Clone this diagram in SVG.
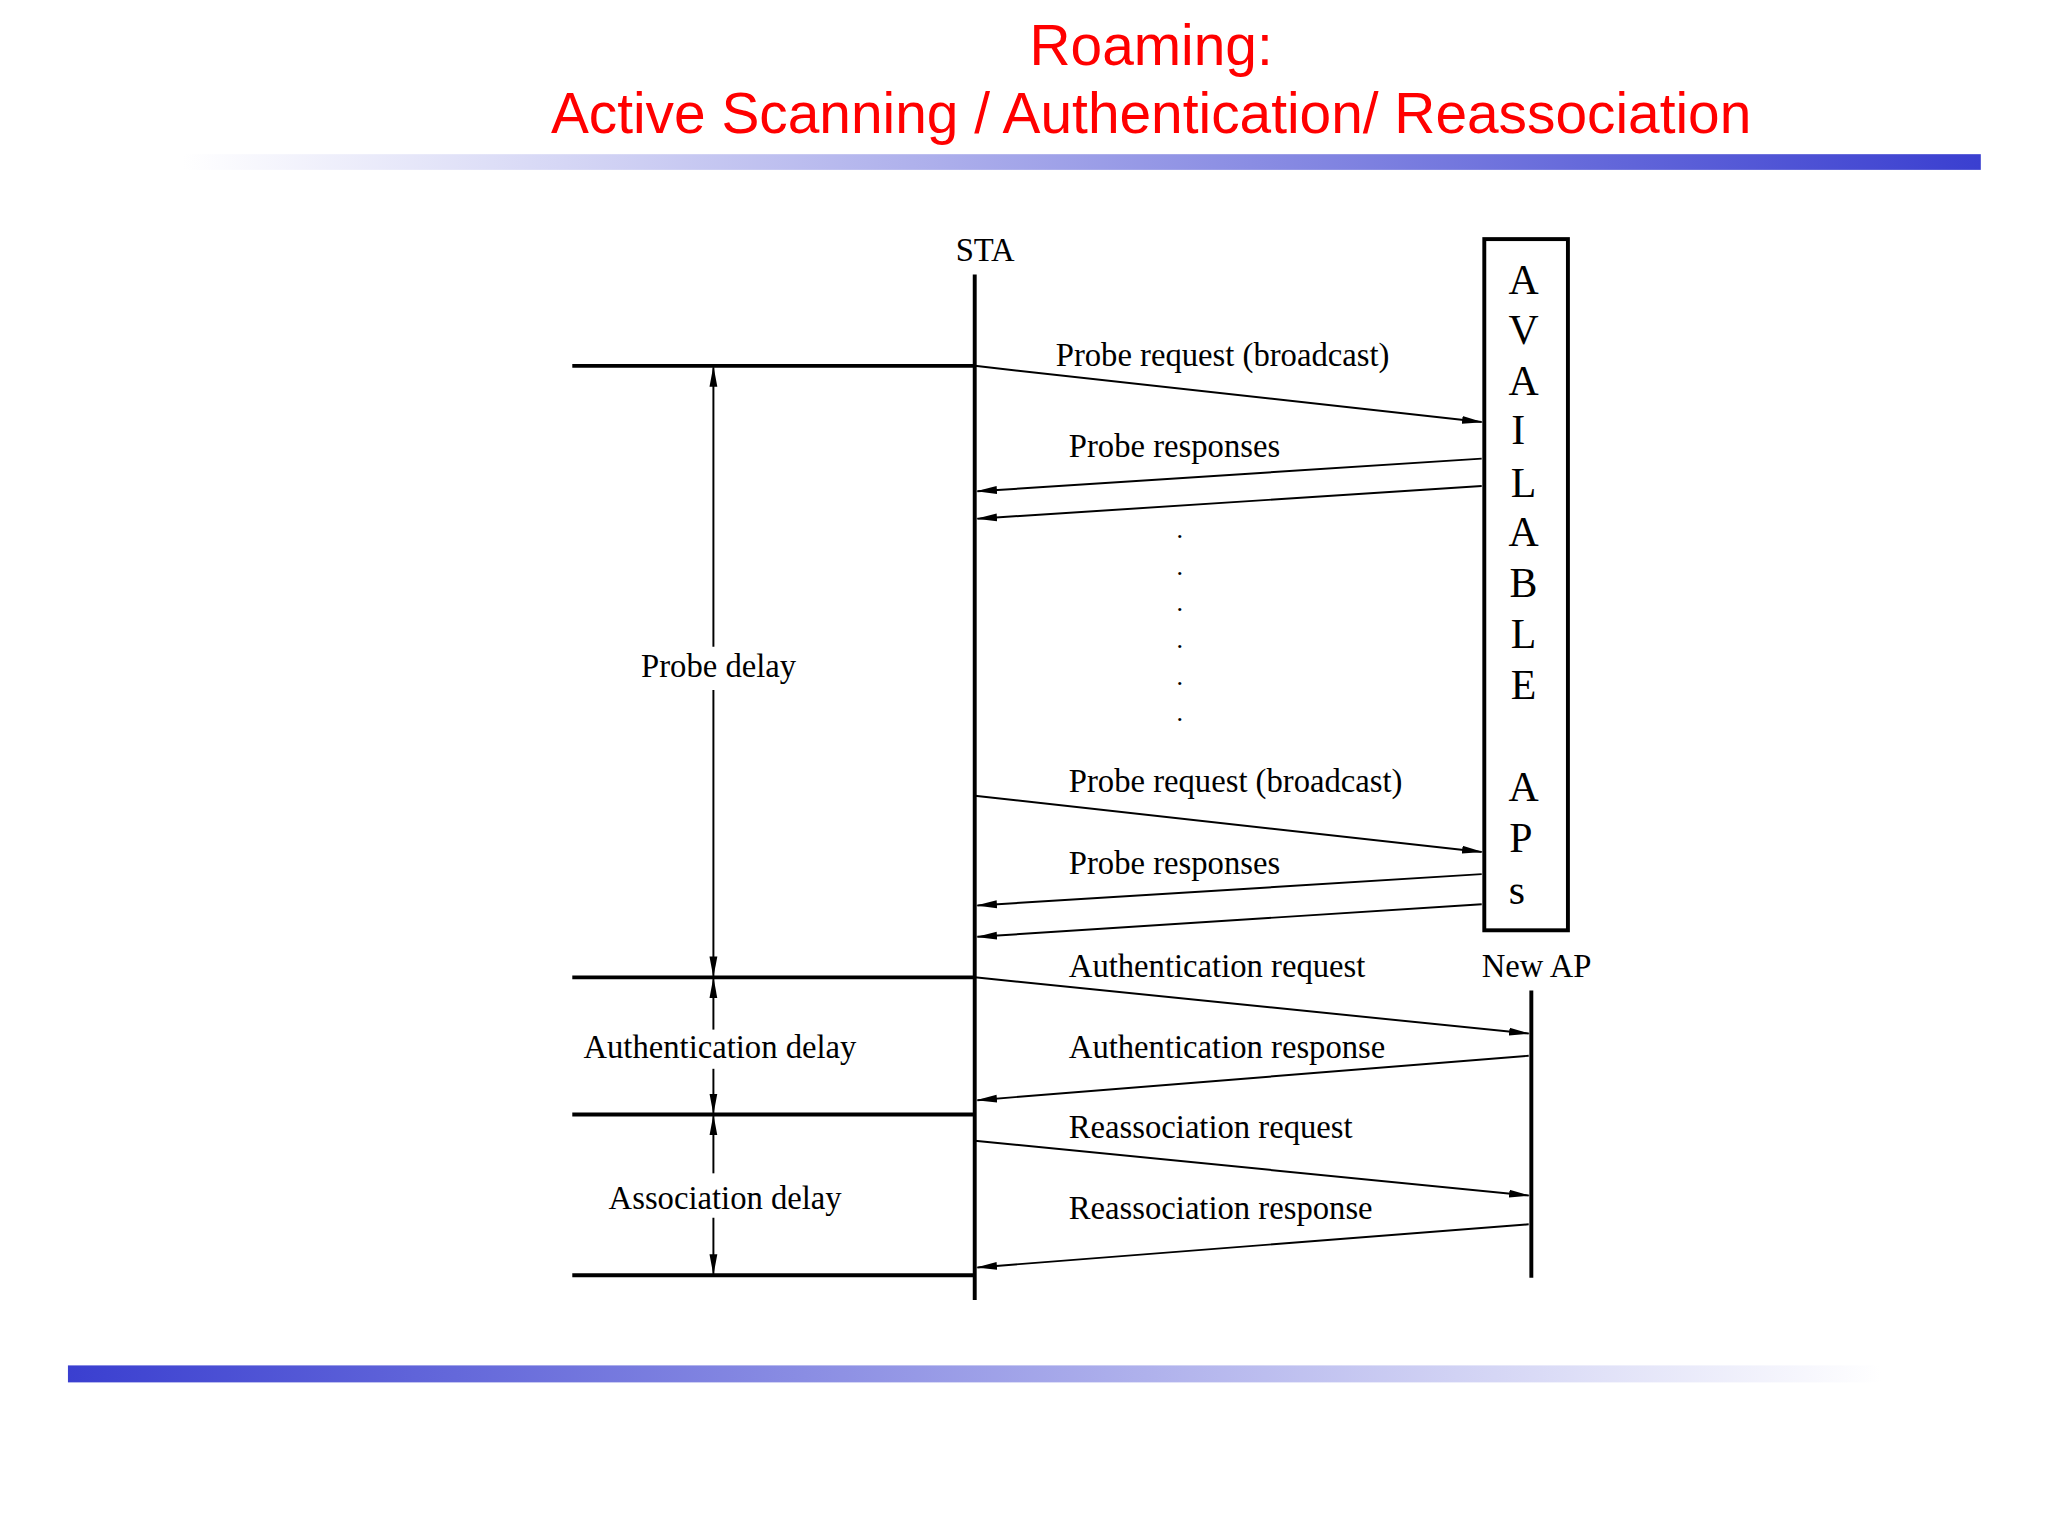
<svg xmlns="http://www.w3.org/2000/svg" width="2048" height="1536" viewBox="0 0 2048 1536">
<style>
.t{font-family:"Liberation Sans",Arial,sans-serif;fill:#ff0000;font-size:43.5px;text-anchor:middle}
.l{font-family:"Liberation Serif","Times New Roman",serif;font-size:25px;fill:#000}
.b{font-family:"Liberation Serif","Times New Roman",serif;font-size:32px;fill:#000;text-anchor:middle}
.k{stroke:#000;stroke-width:3;fill:none}
.a{stroke:#000;stroke-width:1.5;fill:none;marker-end:url(#ah)}
</style>
<defs>
<marker id="ah" markerWidth="16" markerHeight="8" refX="15" refY="4" orient="auto" markerUnits="userSpaceOnUse"><path d="M0,1 L16,4 L0,7 z" fill="#000"/></marker>
<linearGradient id="g1" x1="0" x2="1"><stop offset="0" stop-color="#fff"/><stop offset="1" stop-color="#3a3fd0"/></linearGradient>
<linearGradient id="g2" x1="0" x2="1"><stop offset="0" stop-color="#3a3fd0"/><stop offset="1" stop-color="#fff"/></linearGradient>
</defs>
<g transform="scale(1.3066)">
<g id="title">
<text class="t" x="881" y="50">Roaming:</text>
<text class="t" x="881" y="102">Active Scanning / Authentication/ Reassociation</text>
<rect x="140" y="118" width="1376" height="12" fill="url(#g1)"/>
<rect x="52" y="1045" width="1388" height="13" fill="url(#g2)"/>
</g>
<g id="sta">
<text class="l" x="754" y="200" text-anchor="middle" font-size="30">STA</text>
<line class="k" x1="746" y1="210" x2="746" y2="995"/>
</g>
<g id="aps">
<rect x="1136" y="183" width="64" height="529" fill="none" stroke="#000" stroke-width="3"/>
<text class="b" x="1166" y="225">A</text><text class="b" x="1166" y="263">V</text><text class="b" x="1166" y="302">A</text>
<text class="b" x="1162" y="340">I</text><text class="b" x="1166" y="380">L</text><text class="b" x="1166" y="418">A</text>
<text class="b" x="1166" y="457">B</text><text class="b" x="1166" y="496">L</text><text class="b" x="1166" y="535">E</text>
<text class="b" x="1166" y="613">A</text><text class="b" x="1164" y="652">P</text><text class="b" x="1161" y="692">s</text>
</g>
<g id="newap">
<text class="l" x="1176" y="748" text-anchor="middle" font-size="31">New AP</text>
<line class="k" x1="1172" y1="758" x2="1172" y2="978"/>
</g>
<g id="connectors">
<line class="k" x1="438" y1="280" x2="746" y2="280"/>
<line class="k" x1="438" y1="748" x2="746" y2="748"/>
<line class="k" x1="438" y1="853" x2="746" y2="853"/>
<line class="k" x1="438" y1="976" x2="746" y2="976"/>
<line class="a" x1="746" y1="280" x2="1134" y2="323"/>
<line class="a" x1="1134" y1="351" x2="748" y2="376"/>
<line class="a" x1="1134" y1="372" x2="748" y2="397"/>
<line class="a" x1="746" y1="609" x2="1134" y2="652"/>
<line class="a" x1="1134" y1="669" x2="748" y2="693"/>
<line class="a" x1="1134" y1="692" x2="748" y2="717"/>
<line class="a" x1="746" y1="748" x2="1170" y2="791"/>
<line class="a" x1="1170" y1="808" x2="748" y2="842"/>
<line class="a" x1="746" y1="873" x2="1170" y2="915"/>
<line class="a" x1="1170" y1="937" x2="748" y2="970"/>
<line class="a" x1="546" y1="495" x2="546" y2="281"/>
<line class="a" x1="546" y1="528" x2="546" y2="747"/>
<line class="a" x1="546" y1="788" x2="546" y2="749"/>
<line class="a" x1="546" y1="818" x2="546" y2="852"/>
<line class="a" x1="546" y1="898" x2="546" y2="854"/>
<line class="a" x1="546" y1="932" x2="546" y2="975"/>
</g>
<g id="labels">
<text class="l" x="808" y="280">Probe request (broadcast)</text>
<text class="l" x="818" y="350">Probe responses</text>
<text class="l" x="818" y="606">Probe request (broadcast)</text>
<text class="l" x="818" y="669">Probe responses</text>
<text class="l" x="818" y="748">Authentication request</text>
<text class="l" x="818" y="810">Authentication response</text>
<text class="l" x="818" y="871">Reassociation request</text>
<text class="l" x="818" y="933">Reassociation response</text>
<text class="l" x="550" y="518" text-anchor="middle">Probe delay</text>
<text class="l" x="551" y="810" text-anchor="middle">Authentication delay</text>
<text class="l" x="555" y="925" text-anchor="middle">Association delay</text>
<g font-family="Liberation Serif,serif" font-size="20">
<text x="903" y="412" text-anchor="middle">.</text><text x="903" y="440" text-anchor="middle">.</text>
<text x="903" y="468" text-anchor="middle">.</text><text x="903" y="496" text-anchor="middle">.</text>
<text x="903" y="524" text-anchor="middle">.</text><text x="903" y="552" text-anchor="middle">.</text>
</g>
</g>
</g>
</svg>
